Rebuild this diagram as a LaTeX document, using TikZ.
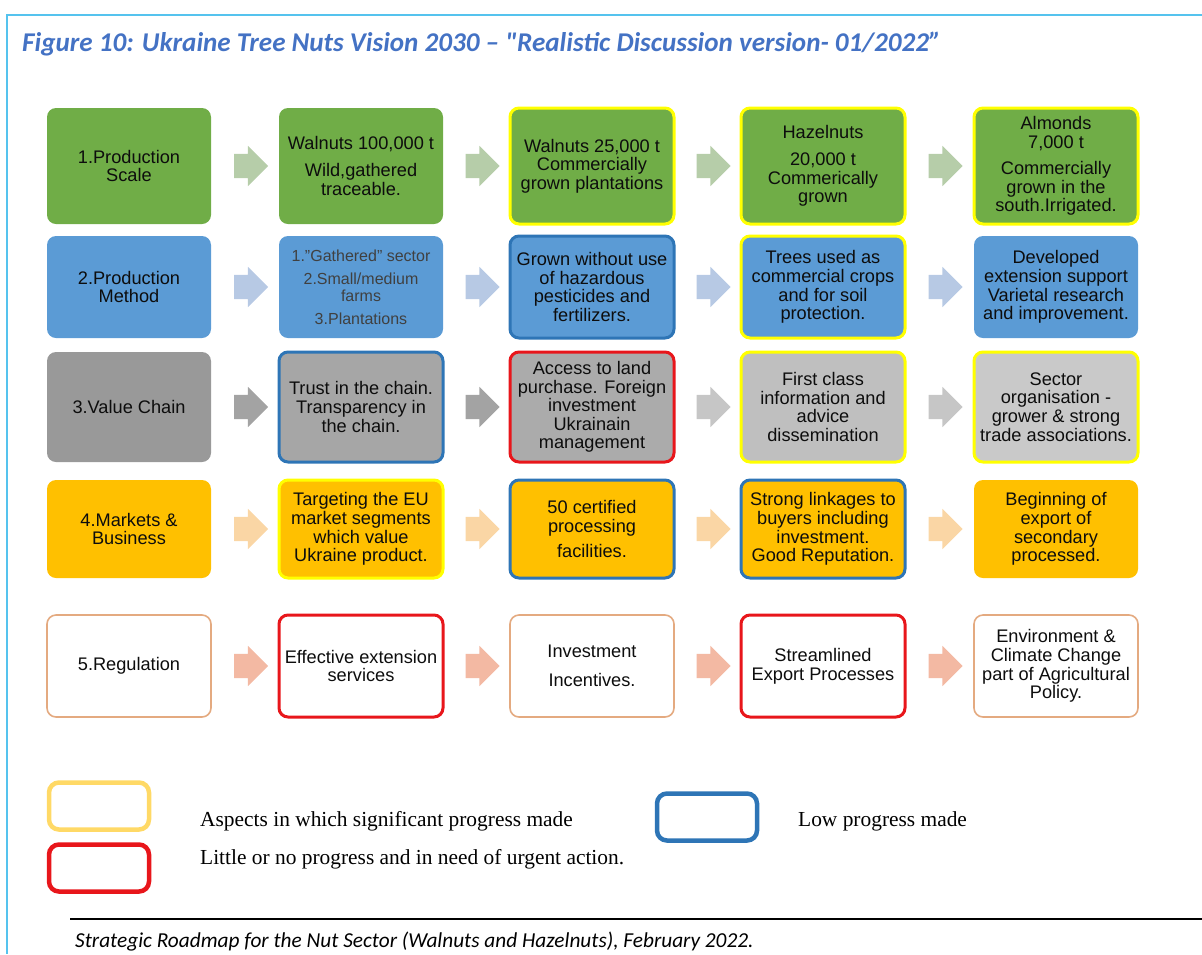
\documentclass[tikz,border=0pt]{standalone}
\usepackage{fontspec}
\setmainfont{Liberation Sans}
\newfontfamily\titlefont{Carlito}
\newfontfamily\legendfont{Liberation Serif}
\usepackage{tikz}
\usetikzlibrary{%
  calc,%
  positioning,%
  shapes.arrows}

\definecolor{framecol}{HTML}{55C3EE}
\definecolor{titlecol}{HTML}{4472C4}
\definecolor{nutgreen}{HTML}{70AD47}
\definecolor{nutblue}{HTML}{5B9BD5}
\definecolor{nutgold}{HTML}{FFC000}
\definecolor{goodcol}{HTML}{FFFF00}
\definecolor{lowcol}{HTML}{2E75B6}
\definecolor{urgentcol}{HTML}{E8161B}
\definecolor{regcol}{HTML}{E4AA80}
\definecolor{arrgreen}{HTML}{B6CDA9}
\definecolor{arrblue}{HTML}{B7C9E4}
\definecolor{arrgrey}{HTML}{A3A3A3}
\definecolor{arrlgrey}{HTML}{C6C6C6}
\definecolor{arrgold}{HTML}{FAD6A5}
\definecolor{arrreg}{HTML}{F3B9A3}
\definecolor{legyellow}{HTML}{FFD966}

\begin{document}
\begin{tikzpicture}[x=1pt,y=-1pt,
  box/.style={rectangle, rounded corners=9pt, minimum width=164pt, inner sep=0pt,
    align=center, text=black!95, font=\fontsize{18.2}{18.6}\selectfont},
  pscale/.style={box, fill=nutgreen, minimum height=116pt},
  pmethod/.style={box, fill=nutblue, minimum height=102pt},
  vchain/.style={box, minimum height=110pt},
  market/.style={box, fill=nutgold, minimum height=98pt},
  regul/.style={box, fill=white, draw=regcol, line width=1.6pt, minimum height=102pt},
  good/.style={draw=goodcol, line width=3pt},
  low/.style={draw=lowcol, line width=3pt},
  urgent/.style={draw=urgentcol, line width=3pt},
  arr/.style={single arrow, single arrow head extend=8pt, minimum height=34pt,
    inner sep=0pt, draw=none},
  legbox/.style={rectangle, rounded corners=10pt, line width=4.5pt,
    minimum width=100pt, minimum height=47pt},
  legtext/.style={anchor=base west, inner sep=0pt, font=\legendfont\fontsize{21.4}{24}\selectfont}]
\useasboundingbox (0,0) rectangle (1202,954);
\draw[framecol, line width=1.5pt] (1202,15) -- (7,15) -- (7,954);
\node (TITLE) at (22,51) [anchor=base west, inner sep=0pt, text=titlecol,
  font=\titlefont\bfseries\itshape\fontsize{27.1}{30}\selectfont]
  {Figure 10: Ukraine Tree Nuts Vision 2030 – "Realistic Discussion version- 01/2022”};

% 1. production scale
\node (PS0) at (129,166) [pscale] {1.Production\\Scale};
\node (PS1) at (361,166) [pscale] {Walnuts 100,000 t\\[8pt]Wild,gathered\\traceable.};
\node (PS2) at (592,166) [pscale, good] {Walnuts 25,000 t\\Commercially\\grown plantations};
\node (PS3) at (823,166) [pscale, good] {Hazelnuts\\[8pt]20,000 t\\Commerically\\grown};
\node (PS4) at (1056,166) [pscale, good] {Almonds\\7,000 t\\[8pt]Commercially\\grown in the\\south.Irrigated.};
% 2. production method
\node (PM0) at (129,287) [pmethod] {2.Production\\Method};
\node (PM1) at (361,287) [pmethod, font=\fontsize{16}{17}\selectfont, text=black!75]
  {1."Gathered" sector\\[6pt]2.Small/medium\\farms\\[6pt]3.Plantations};
\node (PM2) at (592,287) [pmethod, low] {Grown without use\\of hazardous\\pesticides and\\fertilizers.};
\node (PM3) at (823,287) [pmethod, good] {Trees used as\\commercial crops\\and for soil\\protection.};
\node (PM4) at (1056,287) [pmethod] {Developed\\extension support\\Varietal research\\and improvement.};
% 3. value chain
\node (VC0) at (129,407) [vchain, fill=black!40] {3.Value Chain};
\node (VC1) at (361,407) [vchain, fill=black!35, low] {Trust in the chain.\\Transparency in\\the chain.};
\node (VC2) at (592,407) [vchain, fill=black!33, urgent] {Access to land\\purchase. Foreign\\investment\\Ukrainain\\management};
\node (VC3) at (823,407) [vchain, fill=black!25, good] {First class\\information and\\advice\\dissemination};
\node (VC4) at (1056,407) [vchain, fill=black!21, good] {Sector\\organisation -\\grower \& strong\\trade associations.};
% 4. markets
\node (MB0) at (129,529) [market] {4.Markets \&\\Business};
\node (MB1) at (361,529) [market, good] {Targeting the EU\\market segments\\which value\\Ukraine product.};
\node (MB2) at (592,529) [market, low] {50 certified\\processing\\[7pt]facilities.};
\node (MB3) at (823,529) [market, low] {Strong linkages to\\buyers including\\investment.\\Good Reputation.};
\node (MB4) at (1056,529) [market] {Beginning of\\export of\\secondary\\processed.};
% 5. regulation
\node (RG0) at (129,666) [regul] {5.Regulation};
\node (RG1) at (361,666) [regul, urgent] {Effective extension\\services};
\node (RG2) at (592,666) [regul] {Investment\\[10pt]Incentives.};
\node (RG3) at (823,666) [regul, urgent] {Streamlined\\Export Processes};
\node (RG4) at (1056,666) [regul] {Environment \&\\Climate Change\\part of Agricultural\\Policy.};

% fleches
\newcommand{\shaft}{\rule{0pt}{24pt}}
\node (a1) at ($(PS0)!0.5!(PS1)$) [arr, fill=arrgreen] {\shaft};
\node (a2) at ($(PS1)!0.5!(PS2)$) [arr, fill=arrgreen] {\shaft};
\node (a3) at ($(PS2)!0.5!(PS3)$) [arr, fill=arrgreen] {\shaft};
\node (a4) at ($(PS3)!0.5!(PS4)$) [arr, fill=arrgreen] {\shaft};
\node (b1) at ($(PM0)!0.5!(PM1)$) [arr, fill=arrblue] {\shaft};
\node (b2) at ($(PM1)!0.5!(PM2)$) [arr, fill=arrblue] {\shaft};
\node (b3) at ($(PM2)!0.5!(PM3)$) [arr, fill=arrblue] {\shaft};
\node (b4) at ($(PM3)!0.5!(PM4)$) [arr, fill=arrblue] {\shaft};
\node (c1) at ($(VC0)!0.5!(VC1)$) [arr, fill=arrgrey] {\shaft};
\node (c2) at ($(VC1)!0.5!(VC2)$) [arr, fill=arrgrey] {\shaft};
\node (c3) at ($(VC2)!0.5!(VC3)$) [arr, fill=arrlgrey] {\shaft};
\node (c4) at ($(VC3)!0.5!(VC4)$) [arr, fill=arrlgrey] {\shaft};
\node (d1) at ($(MB0)!0.5!(MB1)$) [arr, fill=arrgold] {\shaft};
\node (d2) at ($(MB1)!0.5!(MB2)$) [arr, fill=arrgold] {\shaft};
\node (d3) at ($(MB2)!0.5!(MB3)$) [arr, fill=arrgold] {\shaft};
\node (d4) at ($(MB3)!0.5!(MB4)$) [arr, fill=arrgold] {\shaft};
\node (e1) at ($(RG0)!0.5!(RG1)$) [arr, fill=arrreg] {\shaft};
\node (e2) at ($(RG1)!0.5!(RG2)$) [arr, fill=arrreg] {\shaft};
\node (e3) at ($(RG2)!0.5!(RG3)$) [arr, fill=arrreg] {\shaft};
\node (e4) at ($(RG3)!0.5!(RG4)$) [arr, fill=arrreg] {\shaft};

% legende
\node (LG1) at (99,806) [legbox, draw=legyellow] {};
\node (LG2) at (99,868) [legbox, draw=urgentcol] {};
\node (LG3) at (707,817) [legbox, draw=lowcol] {};
\node (LT1) at (200,826) [legtext] {Aspects in which significant progress made};
\node (LT2) at (200,864) [legtext] {Little or no progress and in need of urgent action.};
\node (LT3) at (798,826) [legtext] {Low progress made};

\draw[line width=1.5pt] (70,919) -- (1202,919);
\node (SRC) at (75,947) [anchor=base west, inner sep=0pt, font=\titlefont\itshape\fontsize{21.3}{24}\selectfont]
  {Strategic Roadmap for the Nut Sector (Walnuts and Hazelnuts), February 2022.};
\end{tikzpicture}
\end{document}
